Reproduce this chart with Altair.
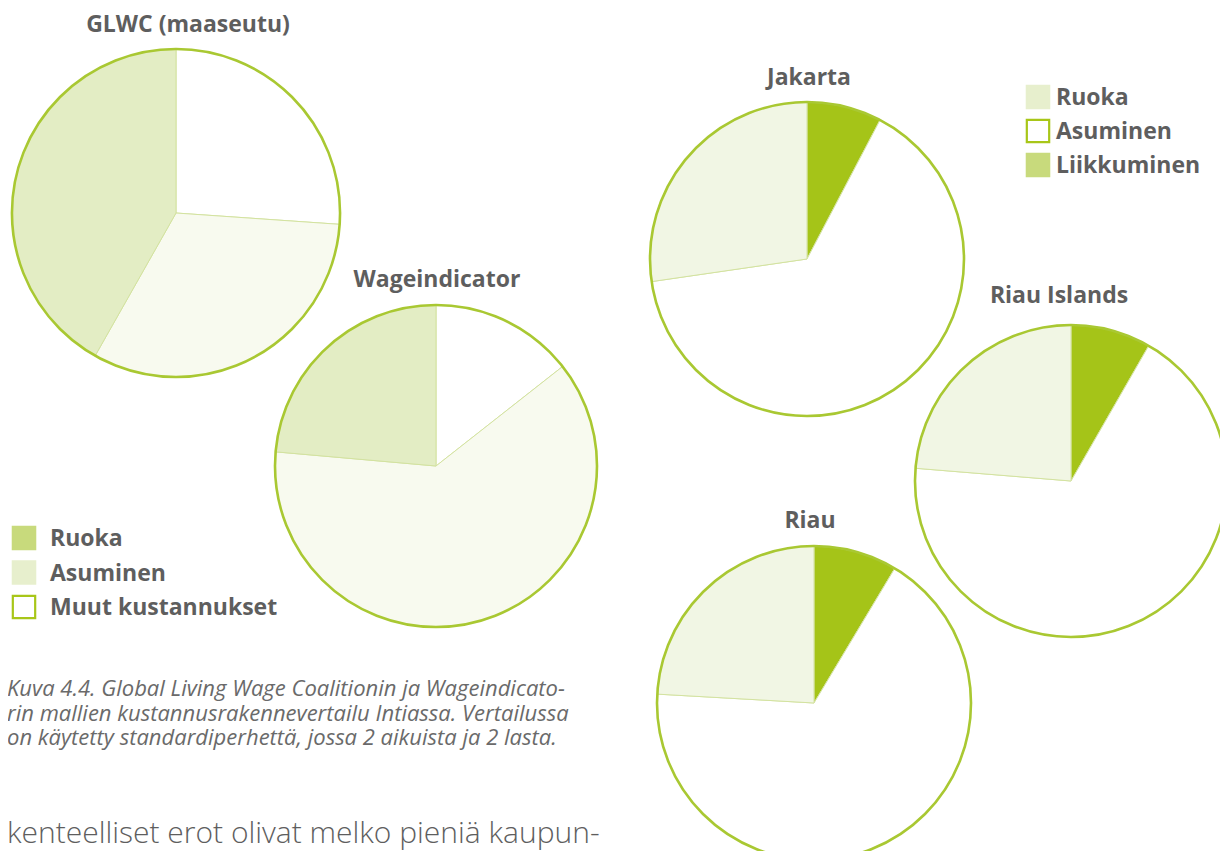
import altair as alt
import pandas as pd

# ---- data ----
left_cats = ["Muut kustannukset", "Asuminen", "Ruoka"]          # clockwise from 12 o'clock
glwc_vals = [26.1, 32.1, 41.8]
wage_vals = [14.4, 62.0, 23.6]

right_cats = ["Liikkuminen", "Asuminen", "Ruoka"]               # clockwise from 12 o'clock
jakarta_vals = [7.7, 65.0, 27.3]
riau_isl_vals = [8.3, 68.0, 23.7]
riau_vals = [8.6, 67.3, 24.1]

pie_titles = ["GLWC (maaseutu)", "Wageindicator", "Jakarta", "Riau Islands", "Riau"]

left_legend = ["Ruoka", "Asuminen", "Muut kustannukset"]
right_legend = ["Ruoka", "Asuminen", "Liikkuminen"]

caption_lines = [
    "Kuva 4.4. Global Living Wage Coalitionin ja Wageindicato-",
    "rin mallien kustannusrakennevertailu Intiassa. Vertailussa",
    "on käytetty standardiperhettä, jossa 2 aikuista ja 2 lasta.",
]
body_line = "kenteelliset erot olivat melko pieniä kaupun-"

# ---- styles ----
RING = "#a9c832"
EDGE = "#d3e2a0"
TXT = "#5e5e5e"
FONT = "Open Sans"
left_pie_colors = ["#ffffff", "#f8faef", "#e3edc4"]
right_pie_colors = ["#a5c418", "#ffffff", "#f1f6e4"]


def pie(cats, vals, title, cx, cy, r, colors, tx, ty):
    df = pd.DataFrame({"cat": cats, "val": vals, "ord": list(range(len(cats)))})
    base = alt.Chart(df)
    slices = base.mark_arc(outerRadius=r, stroke=EDGE, strokeWidth=1).encode(
        theta=alt.Theta("val:Q", stack=True),
        order=alt.Order("ord:Q"),
        color=alt.Color("cat:N", scale=alt.Scale(domain=cats, range=colors), legend=None),
        x=alt.value(cx),
        y=alt.value(cy),
    )
    ring = base.transform_aggregate(total="sum(val)").mark_arc(
        outerRadius=r, fillOpacity=0, stroke=RING, strokeWidth=2.6
    ).encode(
        theta=alt.Theta("total:Q"),
        x=alt.value(cx),
        y=alt.value(cy),
    )
    ttl = alt.Chart(pd.DataFrame({"t": [title]})).mark_text(
        font=FONT, fontWeight="bold", fontSize=23, color=TXT, align="center", baseline="alphabetic"
    ).encode(text="t:N", x=alt.value(tx), y=alt.value(ty))
    return [slices, ring, ttl]


def legend(labels, fills, strokes, x0, y0, y1, gap):
    df = pd.DataFrame({"lab": labels})
    ys = alt.Y("lab:N", scale=alt.Scale(type="point", domain=labels, range=[y0, y1], padding=0), axis=None)
    sq = alt.Chart(df).mark_square(size=500, strokeWidth=2.2, opacity=1).encode(
        x=alt.value(x0),
        y=ys,
        fill=alt.Fill("lab:N", scale=alt.Scale(domain=labels, range=fills), legend=None),
        stroke=alt.Stroke("lab:N", scale=alt.Scale(domain=labels, range=strokes), legend=None),
    )
    tx = alt.Chart(df).mark_text(
        font=FONT, fontWeight="bold", fontSize=23, color=TXT, align="left", baseline="middle", dy=1
    ).encode(x=alt.value(x0 + gap), y=ys, text="lab:N")
    return [sq, tx]


layers = []
layers += pie(left_cats, glwc_vals, pie_titles[0], 168, 205, 164, left_pie_colors, 180, 24)
layers += pie(left_cats, wage_vals, pie_titles[1], 428, 458, 161, left_pie_colors, 429, 279)
layers += pie(right_cats, jakarta_vals, pie_titles[2], 799, 251, 157, right_pie_colors, 801, 77)
layers += pie(right_cats, riau_isl_vals, pie_titles[3], 1063, 473, 156, right_pie_colors, 1051, 295)
layers += pie(right_cats, riau_vals, pie_titles[4], 806, 695, 157, right_pie_colors, 802, 520)

layers += legend(left_legend, ["#c8da7c", "#e7efcd", "#ffffff"], ["#c8da7c", "#e7efcd", "#a8c618"], 16, 530, 599, 26)
layers += legend(right_legend, ["#e7efcd", "#ffffff", "#c8da7c"], ["#e7efcd", "#a8c618", "#c8da7c"], 1030, 89, 157, 18)

caption = alt.Chart(pd.DataFrame({"c": ["caption"]})).mark_text(
    font=FONT, fontStyle="italic", fontSize=22, color="#6a6a6a", align="left",
    baseline="alphabetic", lineHeight=24.5
).encode(text=alt.value(caption_lines), x=alt.value(-1), y=alt.value(688))

body = alt.Chart(pd.DataFrame({"b": [body_line]})).mark_text(
    font=FONT, fontWeight=300, fontSize=30, color="#5e5e5e", align="left", baseline="alphabetic"
).encode(text="b:N", x=alt.value(-1), y=alt.value(835))

layers += [caption, body]

chart = alt.layer(*layers).resolve_scale(
    color="independent", fill="independent", stroke="independent", y="independent", theta="independent"
).properties(
    width=1212, height=843, padding=0, autosize=alt.AutoSizeParams(type="none")
).configure_view(stroke=None)

chart.save("out.html", embed_options={"renderer": "svg", "actions": False})
